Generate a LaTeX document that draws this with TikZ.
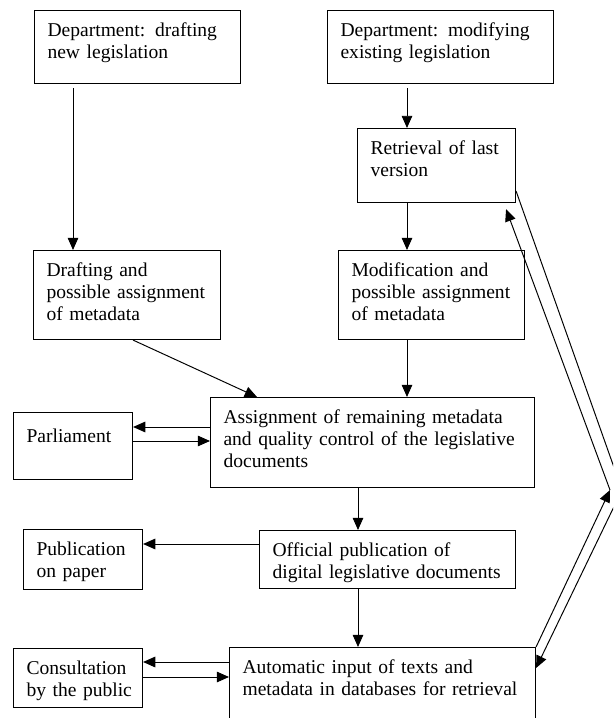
\documentclass[tikz,border=0pt]{standalone}
\usepackage{fontspec}
\setmainfont{Liberation Serif}
\usetikzlibrary{arrows.meta}
\hyphenpenalty=10000
\exhyphenpenalty=10000

\begin{document}
\begin{tikzpicture}
      [ x=0.6135pt, y=-0.6135pt,
        >={Triangle[length=7.5pt,width=6.5pt]},
        font=\fontsize{12pt}{13.5pt}\selectfont,
        box/.style 2 args={draw, line width=0.6pt, anchor=north west, align=left,
          inner xsep=8pt, inner ysep=0pt,
          text width={(#1-26)*0.6135pt},
          text height=16pt, text depth={(#2-26)*0.6135pt}},
        link/.style={->, line width=0.6pt}
      ]
      \useasboundingbox (0,0) rectangle (613,718);
      \clip (0,0) rectangle (613,718);

      \node[box={206}{73}] (A) at (34,10)   {Department: drafting\\new legislation};
      \node[box={226}{73}] (B) at (327,10)  {Department: modifying\\existing legislation};
      \node[box={158}{74}] (C) at (357,128) {Retrieval of last\\version};
      \node[box={187}{89}] (D) at (33,250)  {Drafting and\\possible~assignment\\of metadata};
      \node[box={186}{89}] (E) at (338,250) {Modification and\\possible~assignment\\of metadata};
      \node[box={324}{90}] (F) at (210,397) {Assignment of remaining metadata\\and quality control of the legislative\\documents};
      \node[box={119}{67}, text height=18.4pt, text depth=22.7pt] (G) at (13,412) {Parliament};
      \node[box={256}{58}] (H) at (259,530) {Official publication of\\digital~legislative~documents};
      \node[box={119}{60}] (I) at (23,529)  {Publication\\on~paper};
      \node[box={129}{59}] (J) at (13,648)  {Consultation\\by~the~public};
      \node[box={306}{90}] (K) at (229,647) {Automatic input of texts and\\metadata~in~databases~for~retrieval};

      \coordinate (bendin)  at (610,490);
      \coordinate (bendout) at (622,490);

      \draw[link] ([shift={(39,4)}]A.south west) -- ([shift={(40,0)}]D.north west);
      \draw[link] ([shift={(80,4)}]B.south west) -- ([shift={(50,0)}]C.north west);
      \draw[link] ([shift={(50,0)}]C.south west) -- ([shift={(69,0)}]E.north west);
      \draw[link] ([shift={(100,0)}]D.south west) -- ([shift={(47,0)}]F.north west);
      \draw[link] ([shift={(69,0)}]E.south west) -- ([shift={(197,0)}]F.north west);
      \draw[link] ([shift={(0,30)}]F.north west) -- ([shift={(0,15)}]G.north east);
      \draw[link] ([shift={(0,29)}]G.north east) -- ([shift={(0,44)}]F.north west);
      \draw[link] ([shift={(148,0)}]F.south west) -- ([shift={(99,0)}]H.north west);
      \draw[link] ([shift={(0,14)}]H.north west) -- ([shift={(0,15)}]I.north east);
      \draw[link] ([shift={(99,0)}]H.south west) -- ([shift={(129,0)}]K.north west);
      \draw[link] ([shift={(0,15)}]K.north west) -- ([shift={(0,14)}]J.north east);
      \draw[link] ([shift={(0,29)}]J.north east) -- ([shift={(0,30)}]K.north west);

      % feedback to the retrieval of the last version
      \draw[link] (K.north east) -- (bendin);
      \draw[link] (bendin) -- ([shift={(-10,6)}]C.south east);
      \draw[link] ([shift={(0,-12)}]C.south east) -- (bendout) -- ([shift={(0,21)}]K.north east);
\end{tikzpicture}
\end{document}
